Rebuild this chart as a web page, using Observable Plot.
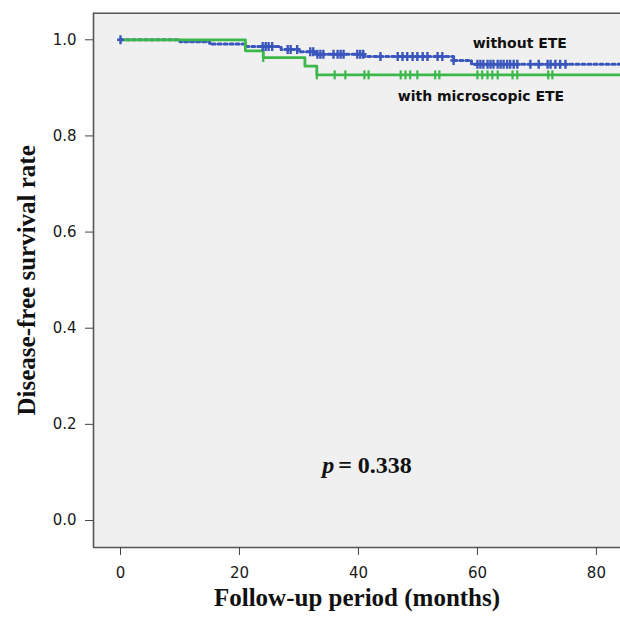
<!DOCTYPE html>
<html>
<head>
<meta charset="utf-8">
<script src="https://cdn.jsdelivr.net/npm/d3@7"></script>
<script src="https://cdn.jsdelivr.net/npm/@observablehq/plot@0.6"></script>
<style>
  html, body { margin: 0; padding: 0; background: #ffffff; }
  #chart svg { display: block; }
</style>
</head>
<body>
<div id="chart"></div>
<script>
// ---- data ----
const xTicks = [0, 20, 40, 60, 80];
const yTicks = [0, 0.2, 0.4, 0.6, 0.8, 1.0];
const groupNames = ["without ETE", "with microscopic ETE"];

// Kaplan–Meier steps: without ETE
const noEteTimes = [0, 10, 15, 21, 27, 30, 33, 41, 56, 59];
const noEteSurv  = [1, 0.996, 0.991, 0.986, 0.980, 0.975, 0.970, 0.965, 0.957, 0.949];
const noEteCensored = [0, 23.9, 24.4, 24.9, 25.5, 28.1, 28.6, 29.7, 31.9, 32.4, 33.1, 33.6, 34.1,
  35.8, 36.5, 37.0, 37.5, 39.8, 40.3, 40.8, 43.7, 46.6, 47.4, 48.2, 49.1, 49.9, 50.8, 51.6,
  53.3, 54.1, 56.0, 60.0, 60.5, 61.0, 61.7, 62.2, 62.7, 63.4, 63.9, 64.4, 65.0, 65.5, 66.1,
  66.7, 68.9, 70.3, 71.8, 72.3, 73.1, 73.9, 74.8];

// Kaplan–Meier steps: with microscopic ETE
const microEteTimes = [0, 21, 24, 31, 33];
const microEteSurv  = [1, 0.977, 0.963, 0.945, 0.927];
const microEteCensored = [24.0, 33.0, 36.0, 37.8, 41.0, 41.7, 47.1, 47.9, 48.7, 49.9, 52.9, 53.6,
  60.0, 60.8, 61.7, 62.5, 63.4, 65.9, 66.7, 71.9, 72.6];

const followUpEnd = 86;
const pText = "= 0.338";
const xTitle = "Follow-up period (months)";
const yTitle = "Disease-free survival rate";

// annotation anchors (data units)
const groupLabelX = [59.2, 46.6];
const groupLabelY = [0.992, 0.882];
const pLabelX = [33.9];
const pLabelY = [0.114];

// ---- build tables ----
function steps(times, surv) {
  const pts = times.map((t, i) => ({t, s: surv[i]}));
  pts.push({t: followUpEnd, s: surv[surv.length - 1]});
  return pts;
}
function atTime(times, surv, t) {
  const i = d3.bisectRight(times, t) - 1;
  return surv[Math.max(0, i)];
}
const noEteLine = steps(noEteTimes, noEteSurv);
const microLine = steps(microEteTimes, microEteSurv);
const noEteMarks = noEteCensored.map(t => ({t, s: atTime(noEteTimes, noEteSurv, t)}));
const microMarks = microEteCensored.map(t => ({t, s: atTime(microEteTimes, microEteSurv, t)}));
const groupLabels = groupNames.map((g, i) => ({g, x: groupLabelX[i], y: groupLabelY[i]}));

const plusSymbol = {
  draw(ctx, size) {
    const r = Math.sqrt(size / Math.PI);
    ctx.moveTo(-r * 0.75, 0); ctx.lineTo(r * 0.75, 0);
    ctx.moveTo(0, -r); ctx.lineTo(0, r);
  }
};
const tickSymbol = {
  draw(ctx, size) {
    const r = Math.sqrt(size / Math.PI);
    ctx.moveTo(0, -r); ctx.lineTo(0, r);
  }
};

const blue = "#3a56bd";
const green = "#3bb84a";
const xDomain = [-4.54, 84.05];
const yDomain = [-0.0562, 1.0553];

const chart = Plot.plot({
  width: 620,
  height: 619,
  marginLeft: 93,
  marginRight: 0,
  marginTop: 12.7,
  marginBottom: 72,
  style: {fontFamily: "DejaVu Sans", fontSize: "15px", background: "#ffffff", color: "#222"},
  x: {domain: xDomain},
  y: {domain: yDomain},
  marks: [
    Plot.frame({fill: "#f0f0f0", stroke: null}),
    Plot.ruleX([xDomain[0]], {stroke: "#555", strokeWidth: 1.6}),
    Plot.ruleY([yDomain[0], yDomain[1]], {stroke: "#555", strokeWidth: 1.6}),
    Plot.axisY({ticks: yTicks, tickFormat: d => d.toFixed(1), tickSize: 8, tickPadding: 9,
      fontSize: 15, label: null, stroke: "#444", fill: "#1a1a1a"}),
    Plot.axisX({ticks: xTicks, tickSize: 8, tickPadding: 12, fontSize: 15, label: null,
      stroke: "#444", fill: "#1a1a1a"}),
    Plot.line(noEteLine, {x: "t", y: "s", curve: "step-after", stroke: blue, strokeWidth: 3,
      strokeDasharray: "3,3", clip: true}),
    Plot.line(microLine, {x: "t", y: "s", curve: "step-after", stroke: green, strokeWidth: 2.8, clip: true}),
    Plot.dot(microMarks, {x: "t", y: "s", symbol: tickSymbol, r: 4.5, fill: "none", stroke: green, strokeWidth: 2.2}),
    Plot.dot(noEteMarks, {x: "t", y: "s", symbol: plusSymbol, r: 4.5, fill: "none", stroke: blue, strokeWidth: 2.4}),
    Plot.text(groupLabels, {x: "x", y: "y", text: "g", textAnchor: "start", fontFamily: "DejaVu Sans",
      fontWeight: "bold", fontSize: 14, fill: "#111"}),
    Plot.text(["p"], {x: () => pLabelX[0], y: () => pLabelY[0], textAnchor: "start", fontFamily: "Liberation Serif",
      fontStyle: "italic", fontWeight: "bold", fontSize: 24, fill: "#111"}),
    Plot.text([pText], {x: () => pLabelX[0], y: () => pLabelY[0], dx: 16, textAnchor: "start", fontFamily: "Liberation Serif",
      fontWeight: "bold", fontSize: 24, fill: "#111"}),
    Plot.text([xTitle], {frameAnchor: "bottom", dy: 58, textAnchor: "middle", fontFamily: "Liberation Serif", fontWeight: "bold",
      fontSize: 25, fill: "#111"}),
    Plot.text([yTitle], {frameAnchor: "left", dx: -67, rotate: -90, textAnchor: "middle", fontFamily: "Liberation Serif", fontWeight: "bold",
      fontSize: 25, fill: "#111"})
  ]
});
document.getElementById("chart").appendChild(chart);
</script>
</body>
</html>
